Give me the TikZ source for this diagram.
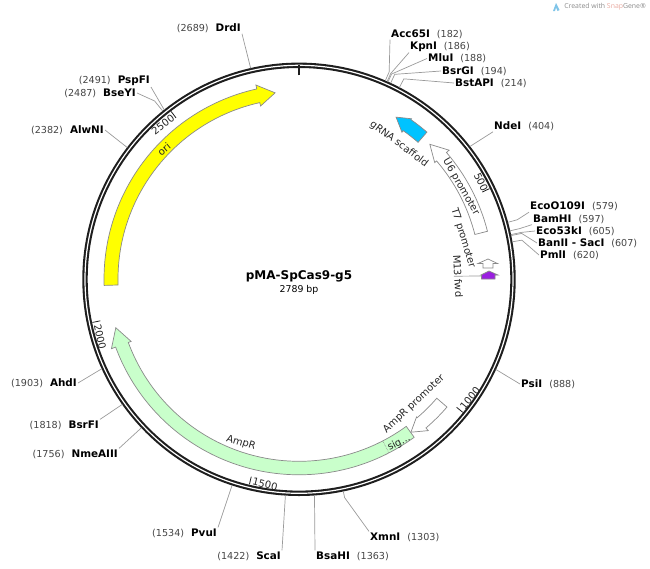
\documentclass[tikz,border=0pt]{standalone}
\usepackage{fontspec}
\setmainfont{DejaVu Sans}
\newfontfamily\markfont{Open Sans}
\usepackage{tikz}
\usetikzlibrary{positioning, calc}

\definecolor{ringdark}{HTML}{1E1E1E}
\definecolor{leadergray}{HTML}{9A9A9A}
\definecolor{edgegray}{HTML}{8A8A8A}
\definecolor{numgray}{HTML}{444444}
\definecolor{orifill}{HTML}{FFFF00}
\definecolor{ampfill}{HTML}{C9FFCB}
\definecolor{grnafill}{HTML}{00C3FF}
\definecolor{m13fill}{HTML}{9A1FE0}
\definecolor{snapblue}{HTML}{7FC4E8}
\definecolor{snapred}{HTML}{E8A9A0}

\newcommand{\siteR}[2]{\textbf{#1}\hspace{7pt}{\color{numgray}\fontsize{9.6}{11}\selectfont(#2)}}
\newcommand{\siteL}[2]{{\color{numgray}\fontsize{9.6}{11}\selectfont(#2)}\hspace{7pt}\textbf{#1}}

\begin{document}
\begin{tikzpicture}[
    x=1pt, y=1pt,
    siteright/.style={anchor=west, inner sep=1pt, font=\fontsize{10.4}{12}\selectfont, text=black},
    siteleft/.style={anchor=east, inner sep=1pt, font=\fontsize{10.4}{12}\selectfont, text=black},
    leader/.style={draw=leadergray, line width=0.7pt},
    feature/.style={draw=edgegray, line width=0.7pt},
    featlabel/.style={inner sep=0pt, font=\fontsize{10}{12}\selectfont, text=black!85},
    ticklabel/.style={inner sep=0pt, font=\fontsize{10}{12}\selectfont, text=black!85},
    tickmark/.style={draw=ringdark, line width=0.8pt},
]
\useasboundingbox (0,0) rectangle (650,-568);
\coordinate (c) at (299,-279.3);

% Backbone, features and ring points
\begin{scope}[shift={(c)}]
\draw[ringdark, line width=5.4pt] (0,0) circle[radius=214];
\draw[white, line width=1.2pt] (0,0) circle[radius=214];
\draw[ringdark, line width=1.6pt] (90:204) -- (90:214);

% Numbered ticks
\draw[tickmark] (25.46:203) -- (25.46:211);
\draw[tickmark] (-39.08:203) -- (-39.08:211);
\draw[tickmark] (-103.6:203) -- (-103.6:211);
\draw[tickmark] (-168.2:203) -- (-168.2:211);
\draw[tickmark] (127.3:203) -- (127.3:211);

% ori
\draw[feature, fill=orifill] (181.8:181) arc[start angle=181.8, end angle=102.5, radius=181] -- (102.5:177.5) -- (97.3:188) -- (102.5:199) -- (102.5:195) arc[start angle=102.5, end angle=181.8, radius=195] -- cycle;

% AmpR
\draw[feature, fill=ampfill] (-53.9:182) arc[start angle=-53.9, end angle=-159.7, radius=182] -- (-159.7:179) -- (-165.2:189.5) -- (-159.7:200) -- (-159.7:195.5) arc[start angle=-159.7, end angle=-53.9, radius=195.5] -- cycle;
\draw[edgegray, line width=0.6pt, densely dotted] (-62.6:182) -- (-62.6:195.5);

% AmpR promoter
\draw[feature, fill=white] (-40.8:182) arc[start angle=-40.8, end angle=-49.5, radius=182] -- (-49.5:181) -- (-53.8:189.5) -- (-49.5:199) -- (-49.5:195.5) arc[start angle=-49.5, end angle=-40.8, radius=195.5] -- cycle;

% U6 promoter
\draw[feature, fill=white] (14.3:181.5) arc[start angle=14.3, end angle=40.7, radius=181.5] -- (40.7:179) -- (45.9:188) -- (40.7:198) -- (40.7:194.5) arc[start angle=40.7, end angle=14.3, radius=194.5] -- cycle;

% gRNA scaffold
\draw[feature, fill=grnafill] (49:181.5) arc[start angle=49, end angle=55, radius=181.5] -- (55:179.5) -- (59.1:189) -- (55:196) -- (55:195) arc[start angle=55, end angle=49, radius=195] -- cycle;

% Enzyme sites on the ring
\coordinate (acc) at (66.51:216.5);
\coordinate (kpn) at (65.99:216.5);
\coordinate (mlu) at (65.73:216.5);
\coordinate (bsrg) at (64.96:216.5);
\coordinate (bsta) at (62.38:216.5);
\coordinate (nde) at (37.85:216.5);
\coordinate (eco0) at (15.26:216.5);
\coordinate (bam) at (12.94:216.5);
\coordinate (eco5) at (11.91:216.5);
\coordinate (ban) at (11.65:216.5);
\coordinate (pml) at (9.97:216.5);
\coordinate (psi) at (-24.6:216.5);
\coordinate (xmn) at (-78.2:216.5);
\coordinate (bsah) at (-85.9:216.5);
\coordinate (sca) at (-93.6:216.5);
\coordinate (pvu) at (-108:216.5);
\coordinate (nme) at (-136.7:216.5);
\coordinate (bsrf) at (-144.7:216.5);
\coordinate (ahd) at (-155.6:216.5);
\coordinate (alw) at (142.5:216.5);
\coordinate (bsey) at (129:216.5);
\coordinate (psp) at (128.5:216.5);
\coordinate (drd) at (102.9:216.5);
\end{scope}

% T7 promoter and M13 fwd
\draw[feature, fill=white] (483,-268) -- (483,-263.5) -- (478,-263.5) -- (488,-259) -- (497.5,-263.5) -- (493,-263.5) -- (493,-268) -- cycle;
\draw[feature, fill=m13fill] (481.5,-279) -- (481.5,-275) -- (481,-275) -- (489,-271) -- (498,-275) -- (495,-275) -- (495,-279) -- cycle;
\coordinate (m13) at (481,-276);

% Title
\node[inner sep=0pt, font=\fontsize{12}{14}\selectfont\bfseries] (title) at (299,-276.5) {pMA-SpCas9-g5};
\node[inner sep=0pt, font=\fontsize{9.4}{11}\selectfont, below=3pt of title] (size) {2789 bp};

% Enzyme labels
\node[siteright] (acclabel) at (390,-34) {\siteR{Acc65I}{182}};
\node[siteright] (kpnlabel) at (409,-46.5) {\siteR{KpnI}{186}};
\node[siteright] (mlulabel) at (427,-58.5) {\siteR{MluI}{188}};
\node[siteright] (bsrglabel) at (441,-71) {\siteR{BsrGI}{194}};
\node[siteright] (bstalabel) at (454,-83) {\siteR{BstAPI}{214}};
\node[siteright] (ndelabel) at (493,-126) {\siteR{NdeI}{404}};
\node[siteright] (eco0label) at (529,-206.5) {\siteR{EcoO109I}{579}};
\node[siteright] (bamlabel) at (532,-219) {\siteR{BamHI}{597}};
\node[siteright] (eco5label) at (535,-231) {\siteR{Eco53kI}{605}};
\node[siteright] (banlabel) at (537,-243) {\textbf{BanII - SacI}\hspace{7pt}{\color{numgray}\fontsize{9.6}{11}\selectfont(607)}};
\node[siteright] (pmllabel) at (539,-255) {\siteR{PmlI}{620}};
\node[siteright] (psilabel) at (520,-384) {\siteR{PsiI}{888}};
\node[siteright] (xmnlabel) at (369,-537) {\siteR{XmnI}{1303}};
\node[siteright] (bsahlabel) at (315,-556) {\siteR{BsaHI}{1363}};
\node[siteleft] (scalabel) at (282,-556) {\siteL{ScaI}{1422}};
\node[siteleft] (pvulabel) at (218,-533) {\siteL{PvuI}{1534}};
\node[siteleft] (nmelabel) at (119,-454) {\siteL{NmeAIII}{1756}};
\node[siteleft] (bsrflabel) at (100,-425) {\siteL{BsrFI}{1818}};
\node[siteleft] (ahdlabel) at (78,-383) {\siteL{AhdI}{1903}};
\node[siteleft] (alwlabel) at (105,-130) {\siteL{AlwNI}{2382}};
\node[siteleft] (bseylabel) at (137,-93) {\siteL{BseYI}{2487}};
\node[siteleft] (psplabel) at (151,-81) {\siteL{PspFI}{2491}};
\node[siteleft] (drdlabel) at (242,-28) {\siteL{DrdI}{2689}};

% Leaders
\draw[leader] (acclabel.south west) -- ($(c)!1.045!(acc)$) -- (acc);
\draw[leader] (kpnlabel.south west) -- ($(c)!1.04!(kpn)$) -- (kpn);
\draw[leader] (mlulabel.west) -- ($(c)!1.04!(mlu)$) -- (mlu);
\draw[leader] (bsrglabel.west) -- ($(c)!1.045!(bsrg)$) -- (bsrg);
\draw[leader] (bstalabel.west) -- ($(c)!1.045!(bsta)$) -- (bsta);
\draw[leader] (ndelabel.south west) -- (nde);
\draw[leader] (eco0label.south west) -- ($(c)!1.045!(eco0)$) -- (eco0);
\draw[leader] (bamlabel.south west) -- ($(c)!1.045!(bam)$) -- (bam);
\draw[leader] (eco5label.west) -- ($(c)!1.05!(eco5)$) -- (eco5);
\draw[leader] (banlabel.west) -- ($(c)!1.05!(ban)$) -- (ban);
\draw[leader] (pmllabel.west) -- ($(c)!1.045!(pml)$) -- (pml);
\draw[leader] (psilabel.west) -- (psi);
\draw[leader] (xmnlabel.north west) -- ($(c)!1.03!(xmn)$) -- (xmn);
\draw[leader] (bsahlabel.north west) -- (bsah);
\draw[leader] (scalabel.north east) -- (sca);
\draw[leader] (pvulabel.north east) -- (pvu);
\draw[leader] (nmelabel.north east) -- (nme);
\draw[leader] (bsrflabel.north east) -- (bsrf);
\draw[leader] (ahdlabel.east) -- (ahd);
\draw[leader] (alwlabel.east) -- (alw);
\draw[leader] (bseylabel.east) -- ($(c)!1.06!(bsey)$) -- (bsey);
\draw[leader] (psplabel.south east) -- (psp);
\draw[leader] (drdlabel.south east) -- (drd);

% Feature labels
\node[featlabel, rotate=-37] (grnatext) at (399,-144) {gRNA scaffold};
\node[featlabel, rotate=-60] (u6text) at (461,-187) {U6 promoter};
\node[featlabel, rotate=-73] (t7text) at (463,-238) {T7 promoter};
\node[featlabel, rotate=-87] (m13text) at (458,-276) {M13 fwd};
\node[featlabel, rotate=40] (oritext) at (164,-149) {ori};
\node[featlabel, rotate=-17] (amptext) at (241,-443) {AmpR};
\node[featlabel, rotate=43] (promtext) at (414,-404) {AmpR promoter};
\node[featlabel, rotate=27] (sigtext) at (399,-443) {sig...};
\draw[leader] (m13text.south) -- (m13);

% Tick labels
\node[ticklabel, rotate=-64] (t500) at (481,-182) {500};
\node[ticklabel, rotate=51] (t1000) at (470,-398) {1000};
\node[ticklabel, rotate=-14] (t1500) at (265,-484) {1500};
\node[ticklabel, rotate=-78] (t2000) at (100,-337) {2000};
\node[ticklabel, rotate=38] (t2500) at (163,-125) {2500};

% Watermark
\node[inner sep=0pt, anchor=east, font=\markfont\fontsize{6.9}{9}\selectfont, text=black!45] (mark) at (646,-7) {Created with {\color{snapred}Snap}Gene®};
\fill[snapblue] (553,-11) -- (556,-3) -- (559.5,-10) -- (557.5,-11) -- (556,-7.5) -- (555,-11) -- cycle;
\end{tikzpicture}
\end{document}
